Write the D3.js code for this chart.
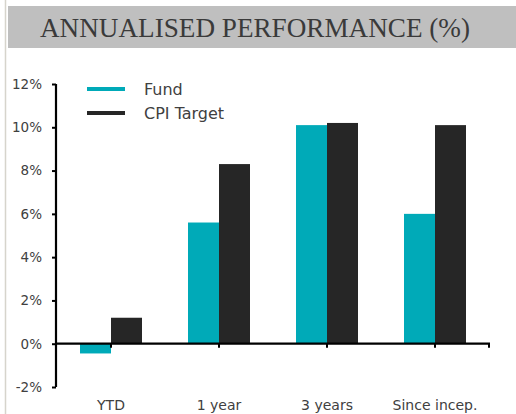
<!DOCTYPE html>
<html><head><meta charset="utf-8">
<script src="https://cdn.jsdelivr.net/npm/d3@7"></script>
<style>body{margin:0;background:#fff}svg{display:block}</style>
</head><body>
<script>
const categories = ["YTD", "1 year", "3 years", "Since incep."];
const seriesNames = ["Fund", "CPI Target"];
const fundValues = [-0.45, 5.6, 10.1, 6.0];
const cpiValues = [1.2, 8.3, 10.2, 10.1];
const yTicks = [-2, 0, 2, 4, 6, 8, 10, 12];
const colors = ["#00AAB8", "#262626"];
const title = "ANNUALISED PERFORMANCE (%)";

const W = 516, H = 414;
const svg = d3.select("body").append("svg").attr("width", W).attr("height", H);
const labelFont = "'DejaVu Sans', sans-serif";

// left border line
svg.append("line").attr("x1", 5.5).attr("x2", 5.5).attr("y1", 0).attr("y2", H)
  .attr("stroke", "#d6d4cc").attr("stroke-width", 1.5);

// title band
svg.append("rect").attr("x", 8).attr("y", 6).attr("width", 508).attr("height", 42).attr("fill", "#bfbfbf");
svg.append("text").attr("x", 40).attr("y", 37).text(title)
  .attr("font-family", "'Liberation Serif', serif").attr("font-size", 27)
  .attr("fill", "#3a3a3a").attr("textLength", 430).attr("lengthAdjust", "spacingAndGlyphs");

const y = d3.scaleLinear().domain([-2, 12]).range([387, 84]);
const x0 = d3.scaleBand().domain(categories).range([57, 489]).padding(0);
const groupW = 62;
const x1 = d3.scaleBand().domain(seriesNames).range([0, groupW]).padding(0);

const data = categories.map((c, i) => ({cat: c, vals: [fundValues[i], cpiValues[i]]}));

// bars
const g = svg.append("g");
data.forEach(d => {
  d.vals.forEach((v, j) => {
    const cx = x0(d.cat) + x0.bandwidth() / 2 - groupW / 2 + x1(seriesNames[j]);
    g.append("rect")
      .attr("x", cx).attr("width", x1.bandwidth())
      .attr("y", y(Math.max(0, v))).attr("height", Math.abs(y(v) - y(0)))
      .attr("fill", colors[j]);
  });
});

// y axis
const yAxis = d3.axisLeft(y).tickValues(yTicks).tickFormat(d => d + "%").tickSize(4).tickPadding(10);
const ya = svg.append("g").attr("transform", "translate(56,0)").call(yAxis);
ya.select(".domain").attr("stroke", "#000").attr("stroke-width", 2.2).attr("d", `M0,${y(-2)}V${y(12)}`);
ya.selectAll(".tick line").attr("stroke", "#000").attr("stroke-width", 2);
ya.selectAll(".tick text").attr("font-family", labelFont).attr("font-size", 13.5).attr("fill", "#404040");

// x axis
const xa = svg.append("g").attr("transform", `translate(0,${y(0)})`);
xa.append("line").attr("x1", 56).attr("x2", 490).attr("stroke", "#000").attr("stroke-width", 2.2);
const tickXs = categories.map(c => x0(c) + x0.bandwidth() / 2).concat([x0.range()[1]]);
xa.selectAll("line.t").data(tickXs).enter().append("line").attr("class", "t")
  .attr("x1", d => d).attr("x2", d => d).attr("y1", 0).attr("y2", 4)
  .attr("stroke", "#000").attr("stroke-width", 2);
svg.append("g").selectAll("text").data(categories).enter().append("text")
  .attr("x", d => x0(d) + x0.bandwidth() / 2).attr("y", 410)
  .attr("text-anchor", "middle").text(d => d)
  .attr("font-family", labelFont).attr("font-size", 14).attr("fill", "#404040");

// legend
const leg = svg.append("g");
seriesNames.forEach((s, i) => {
  const ly = 89 + i * 24;
  leg.append("line").attr("x1", 87).attr("x2", 125).attr("y1", ly).attr("y2", ly)
    .attr("stroke", colors[i]).attr("stroke-width", 4);
  leg.append("text").attr("x", 144).attr("y", ly + 6).text(s)
    .attr("font-family", labelFont).attr("font-size", 16).attr("fill", "#404040");
});
</script>
</body></html>
